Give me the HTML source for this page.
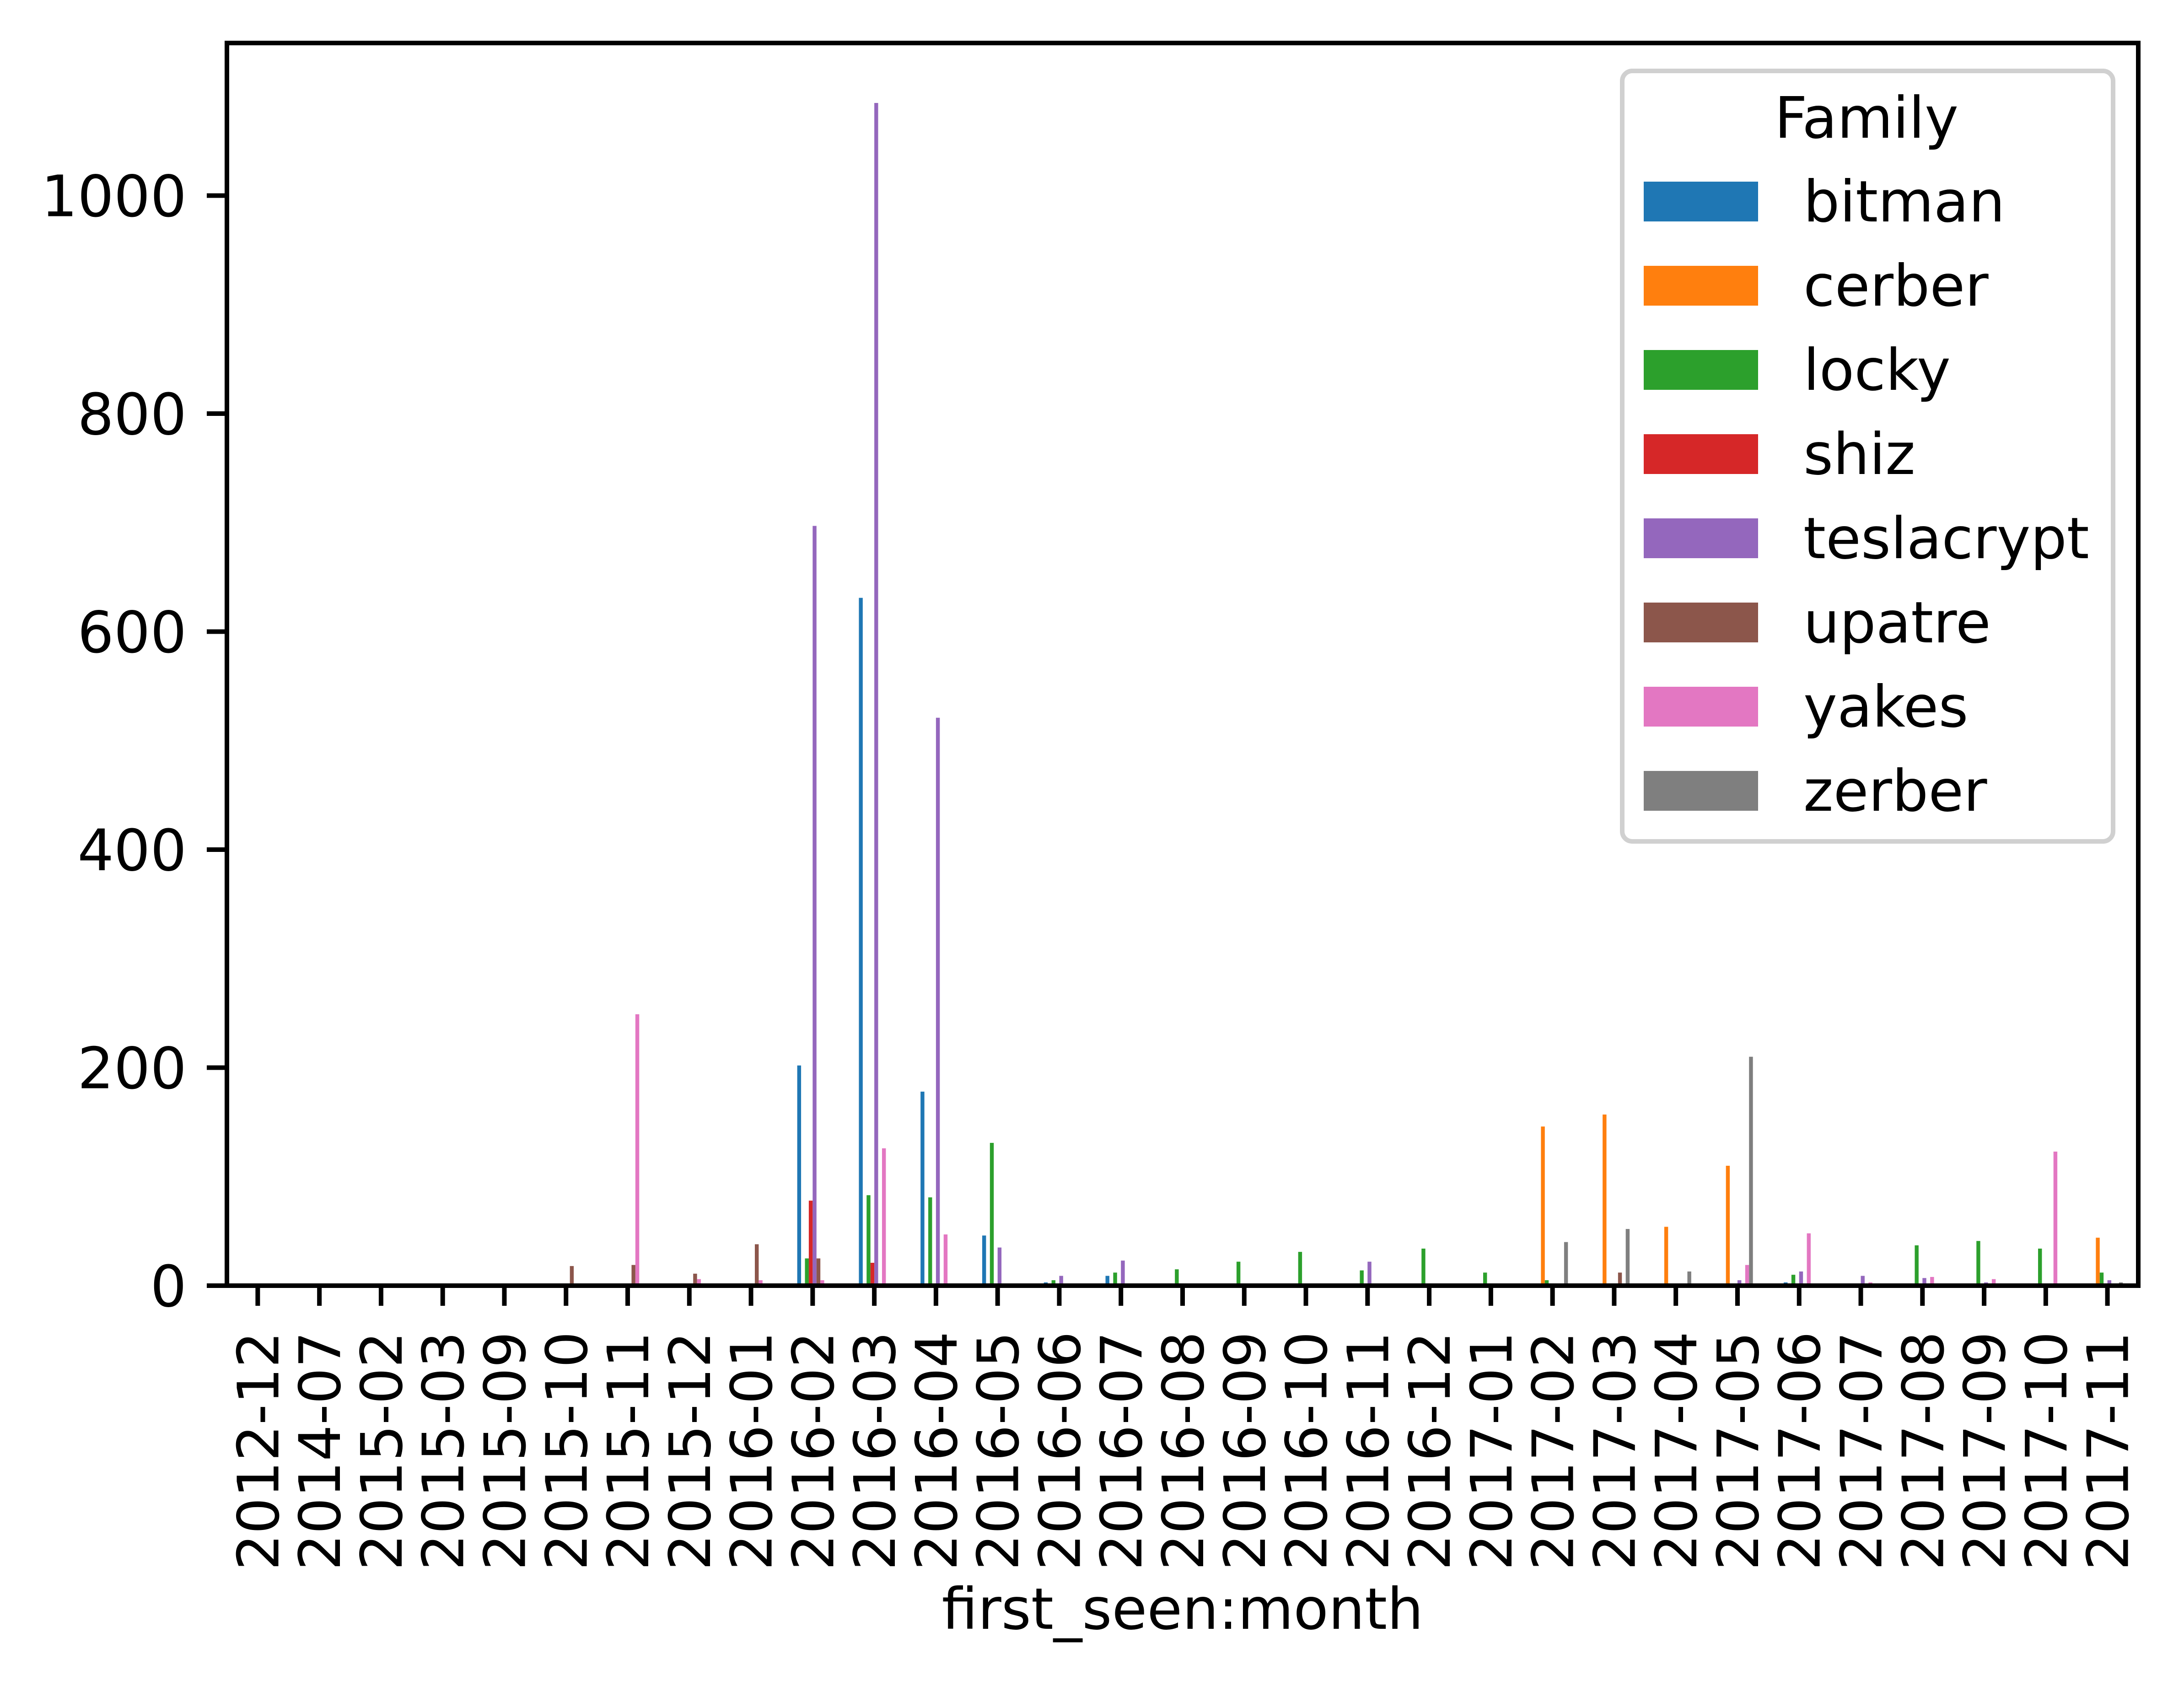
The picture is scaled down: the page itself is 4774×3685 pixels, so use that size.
<!DOCTYPE html>
<html><head><meta charset="utf-8"><style>
html,body{margin:0;padding:0;background:#fff}
svg{display:block;font-family:"DejaVu Sans","Liberation Sans",sans-serif}
</style></head><body>
<svg id="chart" xmlns="http://www.w3.org/2000/svg" width="4774" height="3685" viewBox="0 0 4774 3685">
<rect width="4774" height="3685" fill="#fff"/>
<g id="bars"></g>
<g id="axes"></g>
<text x="2585" y="3560" font-size="125" text-anchor="middle">first_seen:month</text>
<g id="legend">
<rect x="3546" y="155" width="1073" height="1684" rx="22" fill="#fff" fill-opacity="0.8" stroke="#d0d0d0" stroke-width="10"/>
<text x="4080" y="301" font-size="125" text-anchor="middle">Family</text>
</g>
</svg>
<script>
const categories = ["2012-12","2014-07","2015-02","2015-03","2015-09","2015-10","2015-11","2015-12","2016-01","2016-02","2016-03","2016-04","2016-05","2016-06","2016-07","2016-08","2016-09","2016-10","2016-11","2016-12","2017-01","2017-02","2017-03","2017-04","2017-05","2017-06","2017-07","2017-08","2017-09","2017-10","2017-11"];
const seriesNames = ["bitman","cerber","locky","shiz","teslacrypt","upatre","yakes","zerber"];
const seriesColors = ["#1f77b4","#ff7f0e","#2ca02c","#d62728","#9467bd","#8c564b","#e377c2","#7f7f7f"];
const bitman     = [0,0,0,0,0,0,0,0,0,202,631,178,46,3,9,0,0,0,1,0,0,0,0,0,0,3,0,0,0,0,0];
const cerber     = [0,0,0,0,0,0,0,0,0,0,0,0,0,0,0,0,0,0,0,2,2,146,157,54,110,0,0,0,0,0,44];
const locky      = [0,0,0,0,0,0,0,0,0,25,83,81,131,5,12,15,22,31,14,34,12,5,2,0,2,10,0,37,41,34,12];
const shiz       = [0,0,0,0,0,0,0,0,0,78,21,0,0,0,0,0,0,0,0,0,0,0,0,0,0,0,0,0,0,0,0];
const teslacrypt = [0,0,0,0,0,1,0,0,0,697,1085,521,35,9,23,1,0,0,22,0,0,0,0,0,5,13,9,7,3,1,5];
const upatre     = [0,2,0,0,0,18,19,11,38,25,1,0,0,0,0,0,0,0,0,0,0,0,12,0,0,0,0,0,0,0,0];
const yakes      = [0,0,0,0,0,1,249,6,5,5,126,47,0,0,2,0,0,0,0,0,0,0,0,0,19,48,3,8,6,123,1];
const zerber     = [0,0,0,0,0,0,0,0,0,0,0,0,0,0,0,0,0,0,0,0,0,40,52,13,210,0,0,0,0,0,3];
const yTicks = [0,200,400,600,800,1000];
const series = [bitman,cerber,locky,shiz,teslacrypt,upatre,yakes,zerber];

const NS = "http://www.w3.org/2000/svg";
const L = 496, R = 4674, T = 94, B = 2810;
const n = categories.length;
const step = (R - L) / n;
const yMax = 1140;
function xPos(i){ return L + (i + 0.5) * step; }
function yPos(v){ return B - v / yMax * (B - T); }
const bw = step * 0.5 / series.length;

function mk(tag, attrs, parent){
  const e = document.createElementNS(NS, tag);
  for (const k in attrs) e.setAttribute(k, attrs[k]);
  parent.appendChild(e);
  return e;
}
const gb = document.getElementById('bars');
series.forEach((arr, s) => {
  arr.forEach((v, i) => {
    if (v <= 0) return;
    const x = xPos(i) + (s - series.length/2) * bw;
    const r = mk('rect', {x: x, y: yPos(v), width: bw, height: B - yPos(v), fill: seriesColors[s]}, gb);
    
    
  });
});
const ga = document.getElementById('axes');
const frame = mk('rect', {x: L, y: T, width: R - L, height: B - T, fill: 'none', stroke: '#000', 'stroke-width': 10}, ga);


yTicks.forEach(v => {
  const y = yPos(v);
  const t = mk('line', {x1: L - 44, x2: L, y1: y, y2: y, stroke: '#000', 'stroke-width': 10}, ga);
  
  
  const tx = mk('text', {x: L - 88, y: y + 45, 'font-size': 125, 'text-anchor': 'end'}, ga);
  tx.textContent = v;
  
  
});
categories.forEach((c, i) => {
  const x = xPos(i);
  const t = mk('line', {x1: x, x2: x, y1: B, y2: B + 44, stroke: '#000', 'stroke-width': 10}, ga);
  
  
  const tx = mk('text', {x: 0, y: 0, 'font-size': 125, 'text-anchor': 'end', transform: 'translate(' + (x + 45) + ',' + (B + 100) + ') rotate(-90)'}, ga);
  tx.textContent = c;
  
  
});
const gl = document.getElementById('legend');
seriesNames.forEach((nm, s) => {
  const y = 397 + s * 184;
  const p = mk('rect', {x: 3593, y: y, width: 250, height: 87, fill: seriesColors[s]}, gl);
  
  
  const tx = mk('text', {x: 3942, y: y + 87, 'font-size': 125}, gl);
  tx.textContent = nm;
  
  
});
</script>
</body></html>
